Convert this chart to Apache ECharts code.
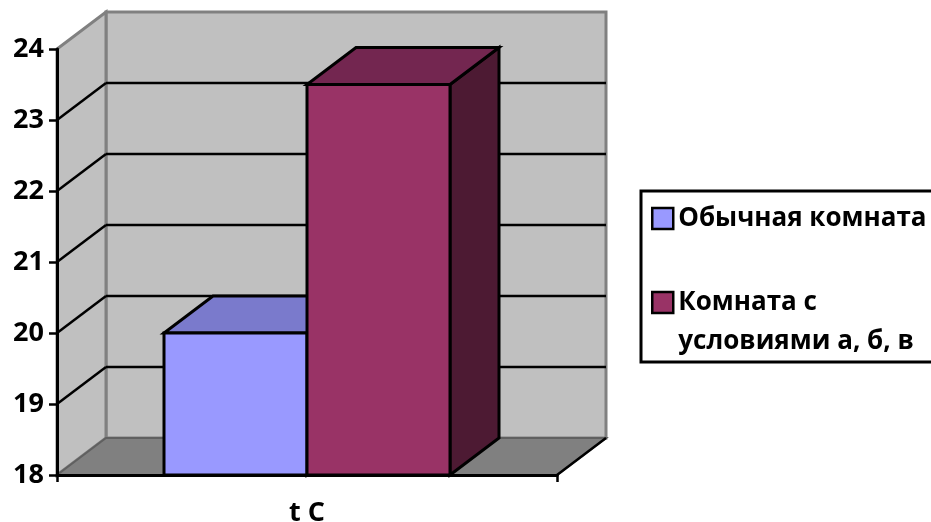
<!DOCTYPE html>
<html>
<head>
<meta charset="utf-8">
<style>html,body{margin:0;padding:0;background:#fff;}</style>
<script src="https://cdn.jsdelivr.net/npm/echarts@6/dist/echarts.min.js"></script>
</head>
<body>
<div id="chart" style="width:931px;height:522px;"></div>
<script>
var categories = ['t C'];
var roomPlain = [20];
var roomCond = [23.5];
var seriesNames = ['Обычная комната', '\nКомната с\nусловиями а, б, в'];
var yTicks = [19, 20, 21, 22, 23];

var depthX = 49, depthY = -37;
var barW = 143;
var FONT = '"Open Sans"';

function poly(points, fill, stroke, width) {
    return {
        type: 'polygon',
        shape: { points: points },
        style: { fill: fill, stroke: stroke, lineWidth: width, lineJoin: 'miter' }
    };
}
function line(a, b, color, width) {
    return {
        type: 'line',
        shape: { x1: a[0], y1: a[1], x2: b[0], y2: b[1] },
        style: { stroke: color, lineWidth: width }
    };
}
function back(p) {
    return [p[0] + depthX, p[1] + depthY];
}

// стенки, пол и линии сетки
function renderWalls(params, api) {
    var band = api.size([1, 0])[0];
    var c = api.coord([0, 18]);
    var x0 = c[0] - band / 2, x1 = c[0] + band / 2;
    var bl = [x0, c[1]], br = [x1, c[1]];
    var tl = [x0, api.coord([0, 24])[1]], tr = [x1, tl[1]];
    var kids = [
        poly([back(bl), back(br), back(tr), back(tl)], '#c0c0c0', '#808080', 3),
        poly([bl, back(bl), back(tl), tl], '#c0c0c0', '#808080', 3),
        poly([bl, br, back(br), back(bl)], '#808080', '#606060', 2)
    ];
    yTicks.forEach(function (v) {
        var y = api.coord([0, v])[1];
        kids.push(line([x0, y], back([x0, y]), '#000', 2.5));
        kids.push(line(back([x0, y]), back([x1, y]), '#000', 2.5));
    });
    kids.push(line(br, back(br), '#000', 2.5));
    return { type: 'group', children: kids };
}

function renderBar(colors, side) {
    return function (params, api) {
        var top = api.coord([api.value(0), api.value(1)]);
        var base = api.coord([api.value(0), 18]);
        var x0 = side < 0 ? top[0] - barW : top[0];
        var x1 = x0 + barW;
        var fl = [x0, base[1]], fr = [x1, base[1]];
        var tl = [x0, top[1]], tr = [x1, top[1]];
        return {
            type: 'group',
            children: [
                poly([fr, back(fr), back(tr), tr], colors[2], '#000', 3),
                poly([tl, tr, back(tr), back(tl)], colors[1], '#000', 3),
                poly([fl, fr, tr, tl], colors[0], '#000', 3)
            ]
        };
    };
}

var chart = echarts.init(document.getElementById('chart'));
chart.setOption({
    animation: false,
    backgroundColor: '#fff',
    grid: { left: 57, right: 374, top: 49, bottom: 47, outerBoundsMode: 'none' },
    xAxis: {
        type: 'category',
        data: categories,
        z: 10,
        axisLine: { lineStyle: { color: '#000', width: 3 } },
        axisTick: { show: true, length: 7, lineStyle: { color: '#000', width: 2.5 } },
        axisLabel: { color: '#000', fontFamily: FONT, fontWeight: 'bold', fontSize: 27, margin: 25 }
    },
    yAxis: {
        type: 'value',
        min: 18,
        max: 24,
        interval: 1,
        z: 10,
        splitLine: { show: false },
        axisLine: { show: true, lineStyle: { color: '#000', width: 3 } },
        axisTick: { show: true, length: 8, lineStyle: { color: '#000', width: 2.5 } },
        axisLabel: { color: '#000', fontFamily: FONT, fontWeight: 'bold', fontSize: 27, margin: 13 }
    },
    legend: {
        left: 641,
        top: 191,
        orient: 'vertical',
        align: 'left',
        selectedMode: false,
        data: seriesNames,
        icon: 'rect',
        itemWidth: 21,
        itemHeight: 21,
        itemGap: 6,
        padding: [8, 30, 1, 10],
        borderColor: '#000',
        borderWidth: 3,
        itemStyle: { borderColor: '#000', borderWidth: 2.5 },
        textStyle: { color: '#000', fontFamily: FONT, fontWeight: 'bold', fontSize: 26, lineHeight: 39 }
    },
    series: [
        { type: 'custom', name: 'стенки', z: 1, silent: true, data: [[0]], renderItem: renderWalls },
        {
            type: 'custom', name: seriesNames[0], z: 2, itemStyle: { color: '#9999ff' },
            data: roomPlain.map(function (v, i) { return [i, v]; }),
            renderItem: renderBar(['#9999ff', '#7a7acc', '#4d4d80'], -1)
        },
        {
            type: 'custom', name: seriesNames[1], z: 3, itemStyle: { color: '#993366' },
            data: roomCond.map(function (v, i) { return [i, v]; }),
            renderItem: renderBar(['#993366', '#732650', '#4d1a33'], 1)
        }
    ]
});
</script>
</body>
</html>
